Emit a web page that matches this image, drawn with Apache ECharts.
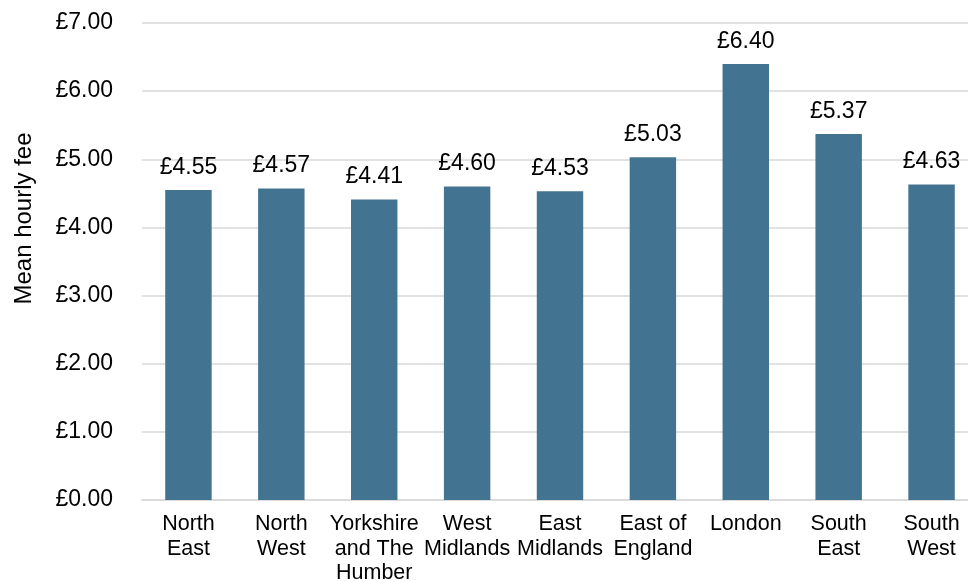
<!DOCTYPE html>
<html>
<head>
<meta charset="utf-8">
<script src="https://cdn.jsdelivr.net/npm/echarts@6/dist/echarts.min.js"></script>
<style>
  html, body { margin: 0; padding: 0; background: #fff; }
  #chart { width: 968px; height: 581px; }
</style>
</head>
<body>
<div id="chart"></div>
<script>
// regions and mean hourly fee (£)
const regions = [
  'North\nEast', 'North\nWest', 'Yorkshire\nand The\nHumber', 'West\nMidlands',
  'East\nMidlands', 'East of\nEngland', 'London', 'South\nEast', 'South\nWest'
]
const meanFee = [4.55, 4.57, 4.41, 4.60, 4.53, 5.03, 6.40, 5.37, 4.63]

const chart = echarts.init(document.getElementById('chart'))

const option = {
  animation: false,
  textStyle: { fontFamily: 'Liberation Sans, Arial, sans-serif' },
  grid: { left: 142, right: -10, top: 23, bottom: 81, outerBoundsMode: 'none' },
  xAxis: {
    type: 'category',
    data: regions,
    axisTick: { show: false },
    axisLine: { lineStyle: { color: '#d9d9d9', width: 1.5 } },
    axisLabel: {
      color: '#000',
      fontSize: 21.5,
      lineHeight: 24.5,
      margin: 12,
      interval: 0
    }
  },
  yAxis: {
    type: 'value',
    min: 0,
    max: 7,
    interval: 1,
    name: 'Mean hourly fee',
    nameLocation: 'middle',
    nameGap: 106,
    nameTextStyle: { color: '#000', fontSize: 24, padding: [0, 0, 0, 86] },
    axisLabel: {
      color: '#000',
      fontSize: 23,
      margin: 29,
      formatter: v => '£' + v.toFixed(2)
    },
    splitLine: { lineStyle: { color: '#d9d9d9', width: 1.5 } }
  },
  series: [{
    type: 'bar',
    data: meanFee,
    barWidth: '50%',
    itemStyle: { color: '#427391' },
    label: {
      show: true,
      position: 'top',
      distance: 11,
      color: '#000',
      fontSize: 23,
      formatter: p => '£' + p.value.toFixed(2)
    }
  }]
}

chart.setOption(option)
window.addEventListener('resize', () => chart.resize())
</script>
</body>
</html>
